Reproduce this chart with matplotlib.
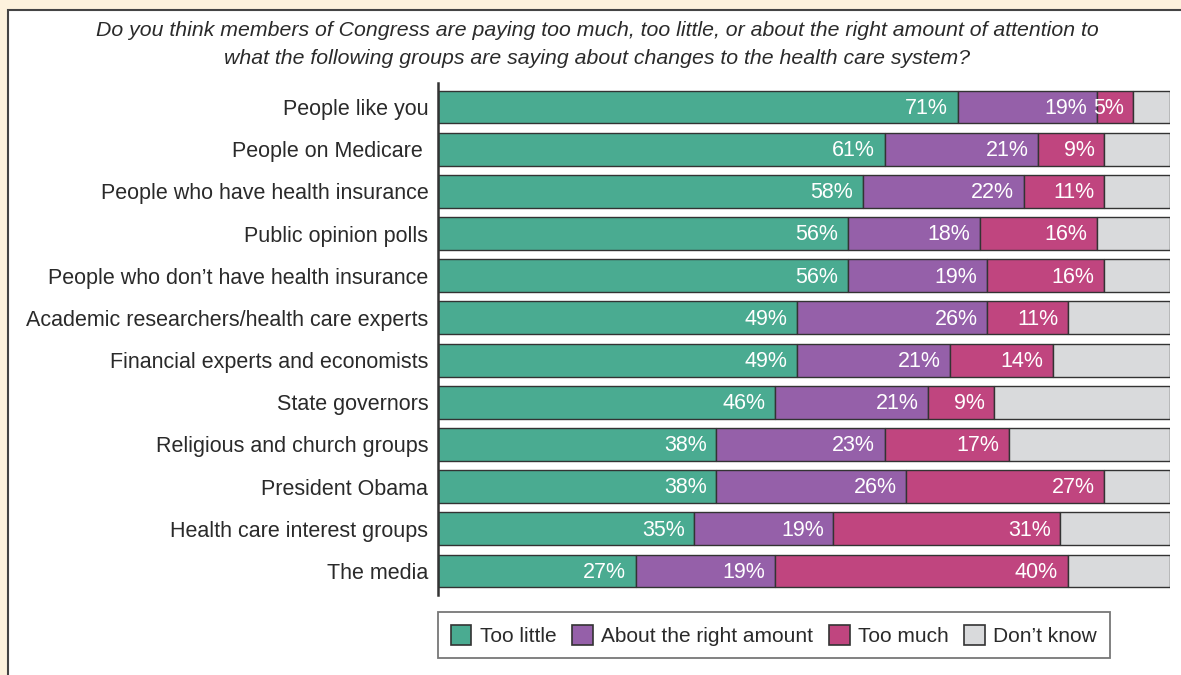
import numpy as np
import matplotlib.pyplot as plt
from matplotlib.patches import Rectangle, Patch

plt.rcParams["font.family"] = ["Liberation Sans", "DejaVu Sans"]

# Survey responses, in percent
groups = ["People like you", "People on Medicare ", "People who have health insurance",
          "Public opinion polls", "People who don\u2019t have health insurance",
          "Academic researchers/health care experts", "Financial experts and economists",
          "State governors", "Religious and church groups", "President Obama",
          "Health care interest groups", "The media"]
too_little = [71, 61, 58, 56, 56, 49, 49, 46, 38, 38, 35, 27]
right_amount = [19, 21, 22, 18, 19, 26, 21, 21, 23, 26, 19, 19]
too_much = [5, 9, 11, 16, 16, 11, 14, 9, 17, 27, 31, 40]
dont_know = [100 - a - b - c for a, b, c in zip(too_little, right_amount, too_much)]

series = [too_little, right_amount, too_much, dont_know]
names = ["Too little", "About the right amount", "Too much", "Don\u2019t know"]
colors = ["#4aab91", "#9560a9", "#c0457f", "#d9dadc"]
txt = "#2a2a2a"

W, H = 1181, 675
fig = plt.figure(figsize=(W / 100, H / 100), dpi=100)
fig.patch.set_facecolor("#fdf2dd")
# white panel with border
fig.patches.append(Rectangle((8 / W, -0.1), 1.2, 1 - 10 / H + 0.1, transform=fig.transFigure,
                             facecolor="white", edgecolor="#444444", linewidth=1.5, zorder=-5))

ax = fig.add_axes([438 / W, 1 - 595 / H, 732 / W, 512 / H])
ax.set_facecolor("none")
y = np.arange(len(groups))
left = np.zeros(len(groups))
for k, (vals, c) in enumerate(zip(series, colors)):
    vals = np.array(vals)
    ax.barh(y, vals, left=left, height=0.78, color=c, edgecolor="#333333", linewidth=1.0)
    if k < 3:
        for yi, l, v in zip(y, left, vals):
            ax.text(l + v - 1.3, yi + 0.03, f"{v}%", ha="right", va="center", color="white", fontsize=15.5)
    left += vals

ax.set_xlim(0, 100)
ax.set_ylim(len(groups) - 0.43, -0.57)
ax.set_yticks(y)
ax.set_yticklabels(groups, fontsize=15.5, color=txt)
ax.tick_params(axis="y", length=0, pad=7)
ax.set_xticks([])
for s in ["top", "right", "bottom"]:
    ax.spines[s].set_visible(False)
ax.spines["left"].set_linewidth(1.8)
ax.spines["left"].set_color("#333333")

fig.text(597 / W, 1 - 31 / H, "Do you think members of Congress are paying too much, too little, or about the right amount of attention to",
         ha="center", va="center", style="italic", fontsize=15.3, color=txt)
fig.text(597 / W, 1 - 58 / H, "what the following groups are saying about changes to the health care system?",
         ha="center", va="center", style="italic", fontsize=15.3, color=txt)

handles = [Patch(facecolor=c, edgecolor="#333333", linewidth=1.2) for c in colors]
leg = fig.legend(handles, names, loc="upper left", bbox_to_anchor=(438 / W, 1 - 612 / H),
                 ncol=4, fontsize=15, frameon=True, fancybox=False, edgecolor="#555555",
                 handlelength=1.0, handleheight=1.1, handletextpad=0.4, columnspacing=0.75,
                 borderpad=0.6, labelcolor=txt, borderaxespad=0)
leg.get_frame().set_linewidth(1.3)

fig.savefig("out.png", dpi=100, facecolor=fig.get_facecolor())
